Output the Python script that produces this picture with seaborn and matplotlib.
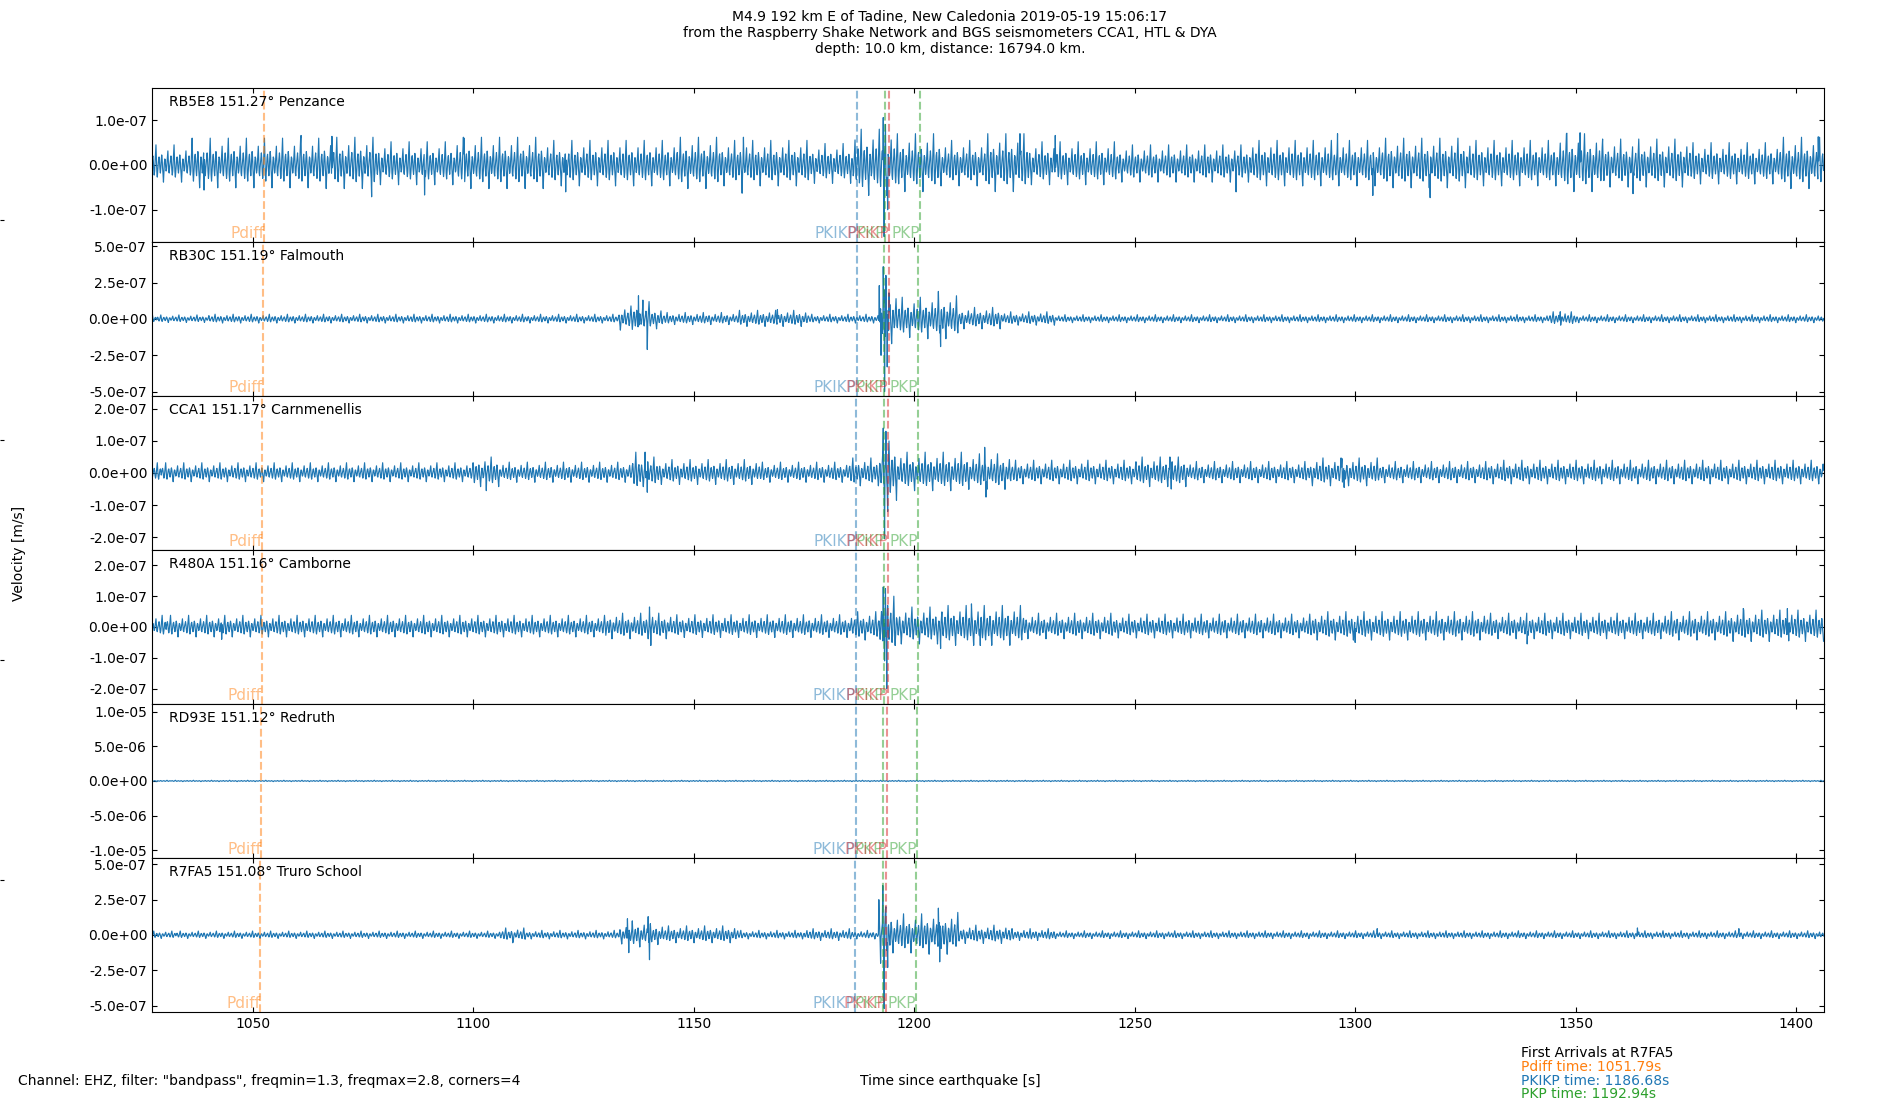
import numpy as np
import matplotlib
matplotlib.use("Agg")
import matplotlib.pyplot as plt
import seaborn as sns

# stations, top to bottom
stations = ["RB5E8", "RB30C", "CCA1", "R480A", "RD93E", "R7FA5"]
distances = [151.27, 151.19, 151.17, 151.16, 151.12, 151.08]
places = ["Penzance", "Falmouth", "Carnmenellis", "Camborne", "Redruth", "Truro School"]

# arrival times (s since earthquake) read per station
pdiff_t = [1052.6, 1052.3, 1052.2, 1052.1, 1052.0, 1051.79]
pkikp_t = [1187.1, 1186.95, 1186.85, 1186.8, 1186.75, 1186.68]
pkp_t = [1193.45, 1193.2, 1193.15, 1193.1, 1193.0, 1192.94]
pkikp_inner_t = [1194.4, 1194.2, 1194.1, 1194.05, 1193.9, 1193.7]
pkp_late_t = [1201.3, 1200.95, 1200.85, 1200.8, 1200.6, 1200.4]

# y range (m/s) and ticks per panel
ylims = [1.72e-7, 5.3e-7, 2.4e-7, 2.5e-7, 1.11e-5, 5.45e-7]
yticks = [
    [-1e-7, 0, 1e-7],
    [-5e-7, -2.5e-7, 0, 2.5e-7, 5e-7],
    [-2e-7, -1e-7, 0, 1e-7, 2e-7],
    [-2e-7, -1e-7, 0, 1e-7, 2e-7],
    [-1e-5, -5e-6, 0, 5e-6, 1e-5],
    [-5e-7, -2.5e-7, 0, 2.5e-7, 5e-7],
]

# trace time window
t_start, t_end = 1027.2, 1406.3

# peak amplitude of each trace (units of 1e-7 m/s), held from each start time
env_start = [
    [1026, 1036, 1066, 1078, 1096, 1116, 1146, 1156, 1176, 1186, 1196, 1206, 1216, 1226, 1246, 1276, 1306, 1326, 1346, 1356, 1376, 1396],
    [1026, 1040, 1133, 1136, 1140, 1143, 1160, 1176, 1192, 1196, 1203, 1210, 1220, 1232, 1344, 1350],
    [1026, 1100, 1106, 1136, 1138, 1142, 1165, 1185, 1192, 1196, 1212, 1222, 1250, 1262, 1290, 1305, 1330],
    [1026, 1130, 1145, 1186, 1192, 1196, 1206, 1225, 1245, 1290, 1330, 1370, 1385],
    [1026],
    [1026, 1106, 1112, 1133, 1136, 1140, 1143, 1160, 1175, 1186, 1192, 1195, 1202, 1210, 1222, 1232],
]
env_amp = [
    [0.45, 0.6, 0.62, 0.52, 0.62, 0.55, 0.62, 0.55, 0.48, 0.8, 0.7, 0.55, 0.7, 0.52, 0.45, 0.55, 0.6, 0.55, 0.7, 0.58, 0.5, 0.62],
    [0.28, 0.33, 0.9, 1.2, 0.8, 0.45, 0.6, 0.33, 2.0, 1.5, 1.6, 0.8, 0.5, 0.3, 0.5, 0.3],
    [0.32, 0.5, 0.34, 0.65, 0.5, 0.42, 0.34, 0.47, 1.0, 0.65, 0.6, 0.4, 0.5, 0.36, 0.47, 0.36, 0.4],
    [0.38, 0.45, 0.4, 0.5, 1.0, 0.65, 0.7, 0.45, 0.42, 0.5, 0.45, 0.5, 0.55],
    [1.0],
    [0.28, 0.5, 0.33, 0.75, 1.0, 0.8, 0.65, 0.33, 0.45, 0.33, 1.8, 1.5, 1.6, 0.7, 0.45, 0.3],
]

# single large swings (time, amplitude in 1e-7 m/s)
spike_t = [
    [1039, 1061, 1068, 1077, 1089, 1098, 1121, 1161, 1161.3, 1193.0, 1193.2, 1193.5, 1194.0, 1224, 1232, 1273, 1296, 1304, 1317, 1348, 1351, 1363, 1405],
    [1137.5, 1138.5, 1139.5, 1169, 1192.1, 1192.5, 1193.0, 1193.3, 1193.6, 1193.9, 1194.3, 1205.5, 1206.0, 1346.5],
    [1103, 1139, 1139.5, 1193.0, 1193.3, 1193.6, 1194.0, 1216, 1216.3, 1258, 1258.3, 1297, 1297.5],
    [1043, 1140, 1140.3, 1193.0, 1193.3, 1193.5, 1193.8, 1206, 1213, 1215, 1300, 1339, 1388, 1398, 1398.3],
    [],
    [1109, 1135, 1135.3, 1139.7, 1140.0, 1192.0, 1192.4, 1192.9, 1193.2, 1193.6, 1194.0, 1205.5, 1205.8, 1305, 1364, 1387],
]
spike_amp = [
    [-0.56, 0.66, 0.64, -0.71, -0.67, 0.6, -0.6, -0.63, 0.62, 1.06, -1.6, 0.9, -1.0, 0.7, 0.66, -0.6, 0.7, -0.68, -0.73, 0.71, 0.72, -0.64, 0.63],
    [1.6, 1.3, -2.1, 0.65, 2.3, -2.5, 3.6, -5.0, 3.0, -3.3, 1.8, 1.9, -1.9, 0.5],
    [-0.55, 0.65, -0.6, 1.4, -2.05, 1.3, -1.2, 0.8, -0.75, 0.5, -0.5, 0.45, -0.45],
    [-0.4, 0.65, -0.6, 1.3, -1.1, 1.25, -2.0, -0.7, 0.75, -0.6, -0.5, -0.55, 0.6, 0.6, -0.45],
    [],
    [-0.55, 1.15, -1.25, 1.3, -1.75, 2.5, -2.0, 3.5, -5.2, 2.0, -2.3, 1.9, -1.9, 0.45, 0.5, 0.45],
]

# shape of one stretch of the band-passed wiggle, relative to the peak
wiggle = [0.1, 0.35, 0.45, 0.2, -0.25, -0.5, -0.3, 0.15, 0.55, 1.0, 0.4, -0.35, -0.6, -0.3, 0.05, 0.3, 0.4,
          0.15, -0.2, -0.4, -0.15, 0.25, 0.5, 0.3, -0.15, -0.45, -0.85, -0.35, 0.1, 0.3, 0.25, -0.1, -0.3,
          -0.2, 0.1, 0.45, 0.7, 0.2, -0.3, -0.4, -0.1]

first_station = "R7FA5"
first_times = {"Pdiff": 1051.79, "PKIKP": 1186.68, "PKP": 1192.94}

sns.set_style("ticks", rc={
    "xtick.direction": "in", "ytick.direction": "in",
    "xtick.top": True, "ytick.right": True,
    "axes.edgecolor": "black", "text.color": "black",
    "xtick.color": "black", "ytick.color": "black",
    "axes.labelcolor": "black",
})
plt.rcParams["font.family"] = ["DejaVu Sans"]
plt.rcParams["font.size"] = 10

fig = plt.figure(figsize=(19, 11), dpi=100)

# full-figure frame (only its left ticks show)
ax_frame = fig.add_axes([0, 0, 1, 1], frameon=False)
ax_frame.set_xticks([])
ax_frame.set_yticks([0.2, 0.4, 0.6, 0.8])
ax_frame.set_yticklabels([])
ax_frame.tick_params(axis="y", direction="in", length=3, right=False)
ax_frame.set_xlim(0, 1)
ax_frame.set_ylim(0, 1)

axes = []
left, right, top, bottom = 0.080, 0.960, 0.920, 0.080
h = (top - bottom) / len(stations)
for i in range(len(stations)):
    ax = fig.add_axes([left, top - (i + 1) * h, right - left, h],
                      sharex=axes[0] if axes else None)
    axes.append(ax)

phases = [
    ("Pdiff", pdiff_t, "tab:orange"),
    ("PKIKP", pkikp_t, "tab:blue"),
    ("PKP", pkp_t, "tab:green"),
    ("PKiKP", pkikp_inner_t, "tab:red"),
    ("PKP", pkp_late_t, "tab:green"),
]

t = np.arange(t_start, t_end, 0.1)
for i, ax in enumerate(axes):
    idx = np.searchsorted(env_start[i], t, side="right") - 1
    env = np.array(env_amp[i])[idx]
    shape = np.roll(np.resize(wiggle, len(t)), i * 11)
    v = env * shape
    for ts, a in zip(spike_t[i], spike_amp[i]):
        v[np.argmin(np.abs(t - ts))] = a
    v = v * 1e-7
    sns.lineplot(x=t, y=v, ax=ax, color="tab:blue", linewidth=0.85,
                 estimator=None, errorbar=None)

    for name, times, col in phases:
        ax.axvline(times[i], color=col, linestyle="--", linewidth=1.5, alpha=0.5)
        ax.text(times[i], -ylims[i] * 0.985, name, color=col, alpha=0.5,
                ha="right", va="bottom", fontsize=11)

    ax.text(0.01, 0.955, f"{stations[i]} {distances[i]:.2f}\u00b0 {places[i]}",
            transform=ax.transAxes, ha="left", va="top", fontsize=10)

    ax.set_ylim(-ylims[i], ylims[i])
    ax.set_yticks(yticks[i])
    ax.set_yticklabels([f"{y:.1e}" for y in yticks[i]])
    ax.set_xlim(t_start, t_end)
    ax.set_xlabel("")
    ax.set_ylabel("")
    ax.tick_params(axis="both", direction="in", top=True, right=True, labelsize=10)
    if i < len(axes) - 1:
        ax.tick_params(axis="x", labelbottom=False)

axes[-1].set_xticks([1050, 1100, 1150, 1200, 1250, 1300, 1350, 1400])

fig.suptitle("M4.9 192 km E of Tadine, New Caledonia 2019-05-19 15:06:17\n"
             "from the Raspberry Shake Network and BGS seismometers CCA1, HTL & DYA\n"
             "depth: 10.0 km, distance: 16794.0 km.", y=0.991, fontsize=10)

fig.text(0.0102, 0.497, "Velocity [m/s]", rotation=90, ha="center", va="center", fontsize=10)
fig.text(0.500, 0.017, "Time since earthquake [s]", ha="center", va="center", fontsize=10)
fig.text(0.0097, 0.017, 'Channel: EHZ, filter: "bandpass", freqmin=1.3, freqmax=2.8, corners=4',
         ha="left", va="center", fontsize=10)

fig.text(0.8007, 0.0425, f"First Arrivals at {first_station}", ha="left", va="center", fontsize=10)
fig.text(0.8007, 0.030, f"Pdiff time: {first_times['Pdiff']:.2f}s", color="tab:orange",
         ha="left", va="center", fontsize=10)
fig.text(0.8007, 0.0175, f"PKIKP time: {first_times['PKIKP']:.2f}s", color="tab:blue",
         ha="left", va="center", fontsize=10)
fig.text(0.8007, 0.0055, f"PKP time: {first_times['PKP']:.2f}s", color="tab:green",
         ha="left", va="center", fontsize=10)

fig.savefig("out.png", dpi=100)
